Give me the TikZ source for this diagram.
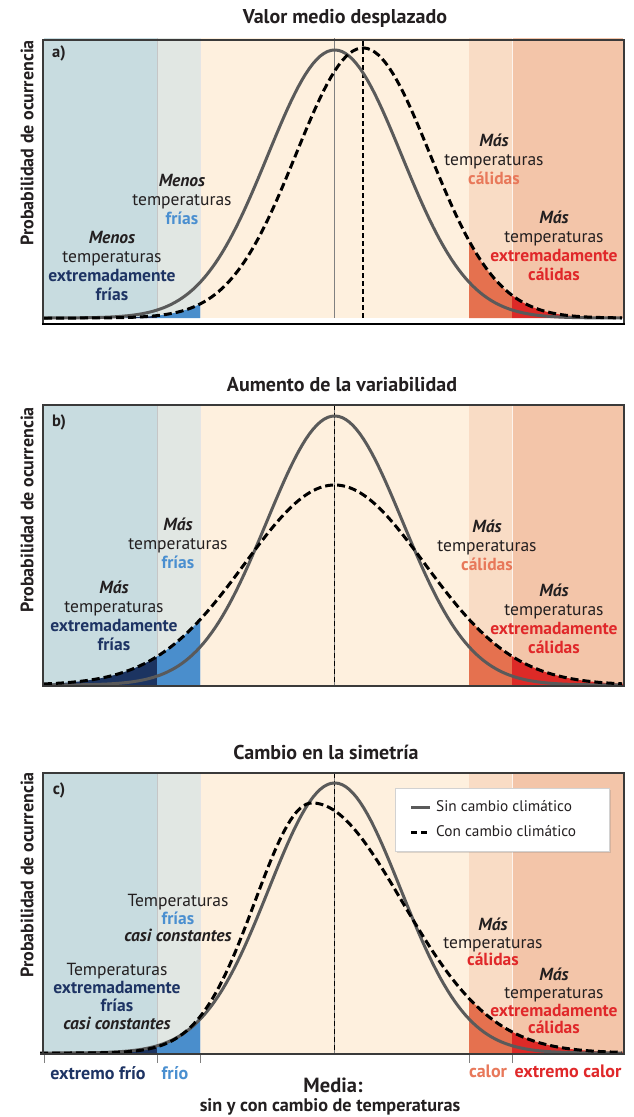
\documentclass[tikz,border=0pt]{standalone}
\usepackage{fontspec}
\setmainfont{PT Sans}
\usetikzlibrary{shadows}
\definecolor{bxc}{HTML}{C8DCE0}
\definecolor{bcl}{HTML}{E1E7E3}
\definecolor{bmid}{HTML}{FEF0DE}
\definecolor{bwm}{HTML}{F9DCC5}
\definecolor{bxw}{HTML}{F3C5A9}
\definecolor{fnavy}{HTML}{1C3461}
\definecolor{fblue}{HTML}{4A8ECC}
\definecolor{forange}{HTML}{E5714F}
\definecolor{fred}{HTML}{DD2A27}
\definecolor{tnavy}{HTML}{1E3464}
\definecolor{tblue}{HTML}{4A8FD0}
\definecolor{tsalmon}{HTML}{E8785A}
\definecolor{tred}{HTML}{E0282A}
\definecolor{tdark}{HTML}{231F20}
\definecolor{cgray}{HTML}{5A5A5A}
\definecolor{frame}{HTML}{3A3A3A}
\newcommand{\drawbands}[2]{%
  \fill[bxc] (44,#1) rectangle (157,#2);
  \fill[bcl] (157,#1) rectangle (200,#2);
  \fill[bmid] (200,#1) rectangle (469,#2);
  \fill[bwm] (469,#1) rectangle (512,#2);
  \fill[bxw] (512,#1) rectangle (623,#2);
  \draw[bandsep] (157,#1) -- (157,#2);
  \draw[bandsep,draw=white!80!gray] (200,#1) -- (200,#2);
  \draw[bandsep,draw=white!70!bwm] (512,#1) -- (512,#2);
}
\newcommand{\dfills}[2]{%
  \fill[fnavy] (44,#1) -- plot[domain=44:157,samples=50] (\x,{#1-#2}) -- (157,#1) -- cycle;
  \fill[fblue] (157,#1) -- plot[domain=157:200,samples=30] (\x,{#1-#2}) -- (200,#1) -- cycle;
  \fill[forange] (469,#1) -- plot[domain=469:512,samples=30] (\x,{#1-#2}) -- (512,#1) -- cycle;
  \fill[fred] (512,#1) -- plot[domain=512:623,samples=50] (\x,{#1-#2}) -- (623,#1) -- cycle;
}
\begin{document}
\begin{tikzpicture}[x=1pt,y=-1pt,
  declare function={gs(\x,\m,\s)=exp(-0.5*((\x-\m)/\s)*((\x-\m)/\s));
                     sk(\x)=(\x<312)*gs(\x,312,57)+(\x>=312)*gs(\x,312,90);},
  bandsep/.style={draw=gray!45,line width=0.6pt},
  solidc/.style={draw=cgray,line width=3pt},
  dashc/.style={draw=black,line width=3pt,dash pattern=on 8pt off 4pt},
  frameln/.style={draw=frame,line width=2pt},
  meanln/.style={draw=gray,line width=1.5pt},
  meandash/.style={draw=black,line width=1.2pt,dash pattern=on 5pt off 3pt},
  title/.style={font=\fontsize{20}{23}\selectfont\bfseries,text=tdark,inner sep=0pt},
  ylab/.style={font=\fontsize{18}{21}\selectfont\bfseries,text=tdark,rotate=90,anchor=east,inner sep=0pt},
  plab/.style={font=\fontsize{16.5}{19}\selectfont\bfseries,text=tdark,inner sep=0pt},
  blk/.style={font=\fontsize{17.5}{19}\selectfont,text=tdark,align=center,inner sep=0pt},
  blkc/.style={font=\fontsize{17.5}{17.8}\selectfont,text=tdark,align=center,inner sep=0pt},
  axl/.style={font=\fontsize{18}{21}\selectfont\bfseries,inner sep=0pt},
  tick/.style={draw=gray,line width=1pt},
  legtxt/.style={font=\fontsize{15.3}{17}\selectfont,text=tdark,anchor=west,inner sep=0pt}
]
\useasboundingbox[fill=white] (0,0) rectangle (634,1117);

%================ Panel a
\node[title] (ta) at (345,18) {Valor medio desplazado};
\drawbands{38}{318}
\fill[white] (44,318) rectangle (623,323);
\dfills{318}{268*gs(\x,363,67)}
\draw[meanln] (334.7,38) -- (334.7,318);
\draw[meandash] (363,41) -- (363,318);
\draw[solidc] plot[domain=44:622,samples=160] (\x,{318-268*gs(\x,334.7,67)});
\draw[dashc] plot[domain=44:622,samples=160] (\x,{318-270*gs(\x,363,67)});
\draw[frameln] (43,325) -- (43,40) -- (623.5,40) -- (623.5,325);
\draw[draw=black,line width=2.5pt] (42,324) -- (624.5,324);
\node[ylab] (ya) at (27,40) {Probabilidad de ocurrencia};
\node[plab] (pa) at (59,53) {a)};
\node[blk] (a1) at (182,199) {\textbf{\textit{Menos}}\\temperaturas\\\textcolor{tblue}{\bfseries frías}};
\node[blk] (a2) at (112,266) {\textbf{\textit{Menos}}\\temperaturas\\\textcolor{tnavy}{\bfseries extremadamente}\\\textcolor{tnavy}{\bfseries frías}};
\node[blk] (a3) at (494,159) {\textbf{\textit{Más}}\\temperaturas\\\textcolor{tsalmon}{\bfseries cálidas}};
\node[blk] (a4) at (554,245.5) {\textbf{\textit{Más}}\\temperaturas\\\textcolor{tred}{\bfseries extremadamente}\\\textcolor{tred}{\bfseries cálidas}};

%================ Panel b
\node[title] (tb) at (342,385) {Aumento de la variabilidad};
\drawbands{405}{685}
\dfills{685}{200*gs(\x,334.7,90)}
\draw[meanln] (334.7,405) -- (334.7,685);
\draw[meandash] (334.7,405) -- (334.7,685);
\draw[solidc] plot[domain=44:622,samples=160] (\x,{685-269*gs(\x,334.7,68)});
\draw[dashc] plot[domain=44:622,samples=160] (\x,{685-200*gs(\x,334.7,90)});
\draw[frameln] (43,686) -- (43,405) -- (623.5,405) -- (623.5,686);
\draw[draw=frame,line width=2.5pt] (42,686) -- (624.5,686);
\node[ylab] (yb) at (27,407) {Probabilidad de ocurrencia};
\node[plab] (pb) at (59,422) {b)};
\node[blk] (b1) at (178,543) {\textbf{\textit{Más}}\\temperaturas\\\textcolor{tblue}{\bfseries frías}};
\node[blk] (b2) at (114,616) {\textbf{\textit{Más}}\\temperaturas\\\textcolor{tnavy}{\bfseries extremadamente}\\\textcolor{tnavy}{\bfseries frías}};
\node[blk] (b3) at (487,545) {\textbf{\textit{Más}}\\temperaturas\\\textcolor{tsalmon}{\bfseries cálidas}};
\node[blk] (b4) at (554,619) {\textbf{\textit{Más}}\\temperaturas\\\textcolor{tred}{\bfseries extremadamente}\\\textcolor{tred}{\bfseries cálidas}};

%================ Panel c
\node[title] (tc) at (326,752) {Cambio en la simetría};
\drawbands{773}{1053}
\dfills{1053}{250*sk(\x)}
\draw[meanln] (334.7,773) -- (334.7,1053);
\draw[meandash] (334.7,773) -- (334.7,1053);
\draw[solidc] plot[domain=44:622,samples=160] (\x,{1053-270*gs(\x,334.7,66)});
\draw[dashc] plot[domain=40:622,samples=180] (\x,{1053-250*sk(\x)});
\draw[frameln] (43,1054) -- (43,773) -- (623.5,773) -- (623.5,1054);
\draw[draw=frame,line width=2.5pt] (40,1054) -- (624.5,1054);
\foreach \tx [count=\i] in {44,157,200,469,512}
  \draw[tick] (\tx,1055) -- (\tx,1063);
\node[ylab] (yc) at (27,772) {Probabilidad de ocurrencia};
\node[plab] (pc) at (59,790) {c)};
\node[blkc] (c1) at (178,918) {Temperaturas\\\textcolor{tblue}{\bfseries frías}\\\textbf{\textit{casi constantes}}};
\node[blkc] (c2) at (117,996.5) {Temperaturas\\\textcolor{tnavy}{\bfseries extremadamente}\\\textcolor{tnavy}{\bfseries frías}\\\textbf{\textit{casi constantes}}};
\node[blkc] (c3) at (493,942) {\textbf{\textit{Más}}\\temperaturas\\\textcolor{tred}{\bfseries cálidas}};
\node[blkc] (c4) at (554,1001) {\textbf{\textit{Más}}\\temperaturas\\\textcolor{tred}{\bfseries extremadamente}\\\textcolor{tred}{\bfseries cálidas}};

% legend
\node[draw=gray!35,fill=white,line width=1pt,minimum width=214pt,minimum height=63pt,inner sep=0pt,
      drop shadow={opacity=0.25,shadow xshift=2pt,shadow yshift=-2pt}] (leg) at (502,819.5) {};
\coordinate (l1a) at (411,807); \coordinate (l1b) at (430,807);
\coordinate (l2a) at (411,832); \coordinate (l2b) at (430,832);
\draw[solidc] (l1a) -- (l1b);
\draw[draw=black,line width=3pt,dash pattern=on 6pt off 4pt] (l2a) -- (l2b);
\node[legtxt] (lt1) at (436,806) {Sin cambio climático};
\node[legtxt] (lt2) at (436,831) {Con cambio climático};

% axis labels
\node[axl,text=tnavy] (xf1) at (98,1073) {extremo frío};
\node[axl,text=tblue] (xf2) at (175,1073) {frío};
\node[axl,text=tsalmon] (xc1) at (488,1071) {calor};
\node[axl,text=tred] (xc2) at (568,1071) {extremo calor};
\node[font=\fontsize{20.5}{23}\selectfont\bfseries,text=tdark,inner sep=0pt] (med) at (333,1085) {Media:};
\node[font=\fontsize{18.2}{20}\selectfont\bfseries,text=tdark,inner sep=0pt] (med2) at (330,1107) {sin y con cambio de temperaturas};
\end{tikzpicture}
\end{document}
